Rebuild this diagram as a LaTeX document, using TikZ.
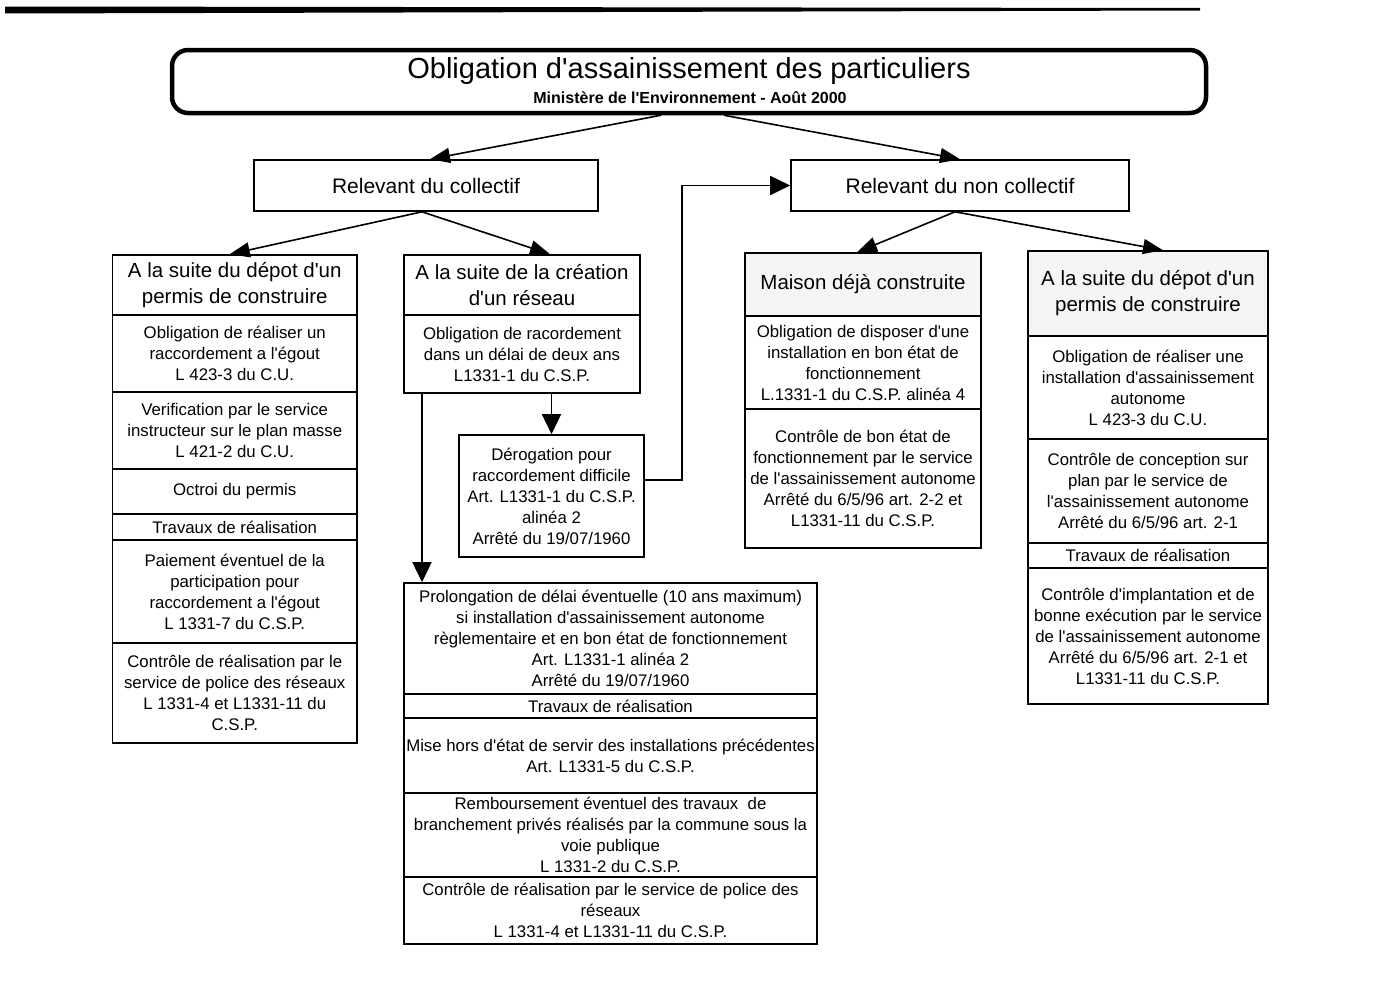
\documentclass[tikz,border=0pt]{standalone}
\usepackage{fontspec}
\setmainfont{Liberation Sans}[Ligatures=TeXOff]
\usetikzlibrary{arrows.meta}
\begin{document}
\begin{tikzpicture}[x=1pt,y=-1pt,
  sec/.style={draw, line width=1.6pt, inner sep=0pt, align=center, font=\fontsize{16.8}{21}\selectfont},
  hdr/.style={sec, font=\fontsize{20.5}{26}\selectfont},
  rel/.style={draw, line width=1.6pt, inner sep=0pt, align=center, font=\fontsize{21}{25}\selectfont, minimum height=51pt},
  arr/.style={line width=1.6pt, -{Triangle[length=20pt,width=19pt]}},
  darr/.style={line width=1.6pt, -{Triangle[length=20pt,width=15pt]}},
  speck/.style={fill=black!4}
]
\useasboundingbox (0,0) rectangle (1394,1001);
% top rule
\fill (5,6.5) -- (1200,8) -- (1200,10.5) -- (5,13.5) -- cycle;

% title
\node[draw, line width=4.5pt, rounded corners=16pt, minimum width=1034pt, minimum height=63pt, inner sep=0pt] (title) at (689,81.5) {};
\node[font=\fontsize{29}{32}\selectfont, inner sep=0pt] (tt) at (689,71.5) {Obligation d'assainissement des particuliers};
\node[font=\bfseries\fontsize{16}{18}\selectfont, inner sep=0pt] (st) at (690,97.5) {Ministère de l'Environnement - Août 2000};

% level 2
\node[rel, minimum width=344pt] (col) at (426,185.5) {Relevant du collectif};
\node[rel, minimum width=338pt] (ncol) at (960,185.5) {Relevant du non collectif};

% left column
\node[hdr, minimum width=244.5pt, minimum height=60pt] (l0) at (234.75,285) {A la suite du dépot d'un\\permis de construire};
\node[sec, minimum width=244.5pt, minimum height=77pt] (l1) at (234.75,353.5) {Obligation de réaliser un\\raccordement a l'égout\\L 423-3 du C.U.};
\node[sec, minimum width=244.5pt, minimum height=77pt] (l2) at (234.75,430.5) {Verification par le service\\instructeur sur le plan masse\\L 421-2 du C.U.};
\node[sec, minimum width=244.5pt, minimum height=45pt] (l3) at (234.75,491.5) {Octroi du permis};
\node[sec, minimum width=244.5pt, minimum height=26pt] (l4) at (234.75,527) {Travaux de réalisation};
\node[sec, minimum width=244.5pt, minimum height=103pt] (l5) at (234.75,591.5) {Paiement éventuel de la\\participation pour\\raccordement a l'égout\\L 1331-7 du C.S.P.};
\node[sec, minimum width=244.5pt, minimum height=100pt] (l6) at (234.75,693) {Contrôle de réalisation par le\\service de police des réseaux\\L 1331-4 et L1331-11 du\\C.S.P.};

% middle column
\node[hdr, minimum width=236pt, minimum height=60pt] (m0) at (522,285) {A la suite de la création\\d'un réseau};
\node[sec, minimum width=236pt, minimum height=78pt] (m1) at (522,354) {Obligation de racordement\\dans un délai de deux ans\\L1331-1 du C.S.P.};
\node[sec, minimum width=185pt, minimum height=122pt] (der) at (551.5,496) {Dérogation pour\\raccordement difficile\\Art. L1331-1 du C.S.P.\\alinéa 2\\Arrêté du 19/07/1960};

% bottom column
\node[sec, minimum width=413pt, minimum height=111pt] (b0) at (610.5,638.5) {Prolongation de délai éventuelle (10 ans maximum)\\si installation d'assainissement autonome\\règlementaire et en bon état de fonctionnement\\Art. L1331-1 alinéa 2\\Arrêté du 19/07/1960};
\node[sec, minimum width=413pt, minimum height=24pt] (b1) at (610.5,706) {Travaux de réalisation};
\node[sec, minimum width=413pt, minimum height=75pt] (b2) at (610.5,755.5) {Mise hors d'état de servir des installations précédentes\\Art. L1331-5 du C.S.P.};
\node[sec, minimum width=413pt, minimum height=84pt] (b3) at (610.5,835) {Remboursement éventuel des travaux\ \ de\\branchement privés réalisés par la commune sous la\\voie publique\\L 1331-2 du C.S.P.};
\node[sec, minimum width=413pt, minimum height=67pt] (b4) at (610.5,910.5) {Contrôle de réalisation par le service de police des\\réseaux\\L 1331-4 et L1331-11 du C.S.P.};

% maison column
\node[hdr, speck, minimum width=236pt, minimum height=63pt] (n0) at (863,284.5) {Maison déjà construite};
\node[sec, minimum width=236pt, minimum height=93pt] (n1) at (863,362.5) {Obligation de disposer d'une\\installation en bon état de\\fonctionnement\\L.1331-1 du C.S.P. alinéa 4};
\node[sec, minimum width=236pt, minimum height=139pt] (n2) at (863,478.5) {Contrôle de bon état de\\fonctionnement par le service\\de l'assainissement autonome\\Arrêté du 6/5/96 art. 2-2 et\\L1331-11 du C.S.P.};

% right column
\node[hdr, speck, minimum width=240pt, minimum height=85pt] (r0) at (1148,293.5) {A la suite du dépot d'un\\permis de construire};
\node[sec, minimum width=240pt, minimum height=103pt] (r1) at (1148,387.5) {Obligation de réaliser une\\installation d'assainissement\\autonome\\L 423-3 du C.U.};
\node[sec, minimum width=240pt, minimum height=104pt] (r2) at (1148,491) {Contrôle de conception sur\\plan par le service de\\l'assainissement autonome\\Arrêté du 6/5/96 art. 2-1};
\node[sec, minimum width=240pt, minimum height=25pt] (r3) at (1148,555.5) {Travaux de réalisation};
\node[sec, minimum width=240pt, minimum height=136pt] (r4) at (1148,636) {Contrôle d'implantation et de\\bonne exécution par le service\\de l'assainissement autonome\\Arrêté du 6/5/96 art. 2-1 et\\L1331-11 du C.S.P.};

% connectors
\draw[darr] ([xshift=-28pt]title.south) -- ([xshift=4pt]col.north);
\draw[darr] ([xshift=35pt]title.south) -- (ncol.north);
\draw[darr] ([xshift=-4pt]col.south) -- ([xshift=-5pt]l0.north);
\draw[darr] ([xshift=-4pt]col.south) -- ([xshift=28pt]m0.north);
\draw[darr] ([xshift=-5pt]ncol.south) -- ([xshift=-6pt]n0.north);
\draw[darr] ([xshift=-5pt]ncol.south) -- ([xshift=15pt]r0.north);
\draw[arr] (der.north |- m1.south) -- (der.north);
\draw[arr] ([xshift=-100pt]m1.south) -- ([xshift=-100pt]m1.south |- b0.north);
\draw[arr] ([yshift=16pt]der.east) -- ++(37,0) |- (ncol.west);
\end{tikzpicture}
\end{document}
